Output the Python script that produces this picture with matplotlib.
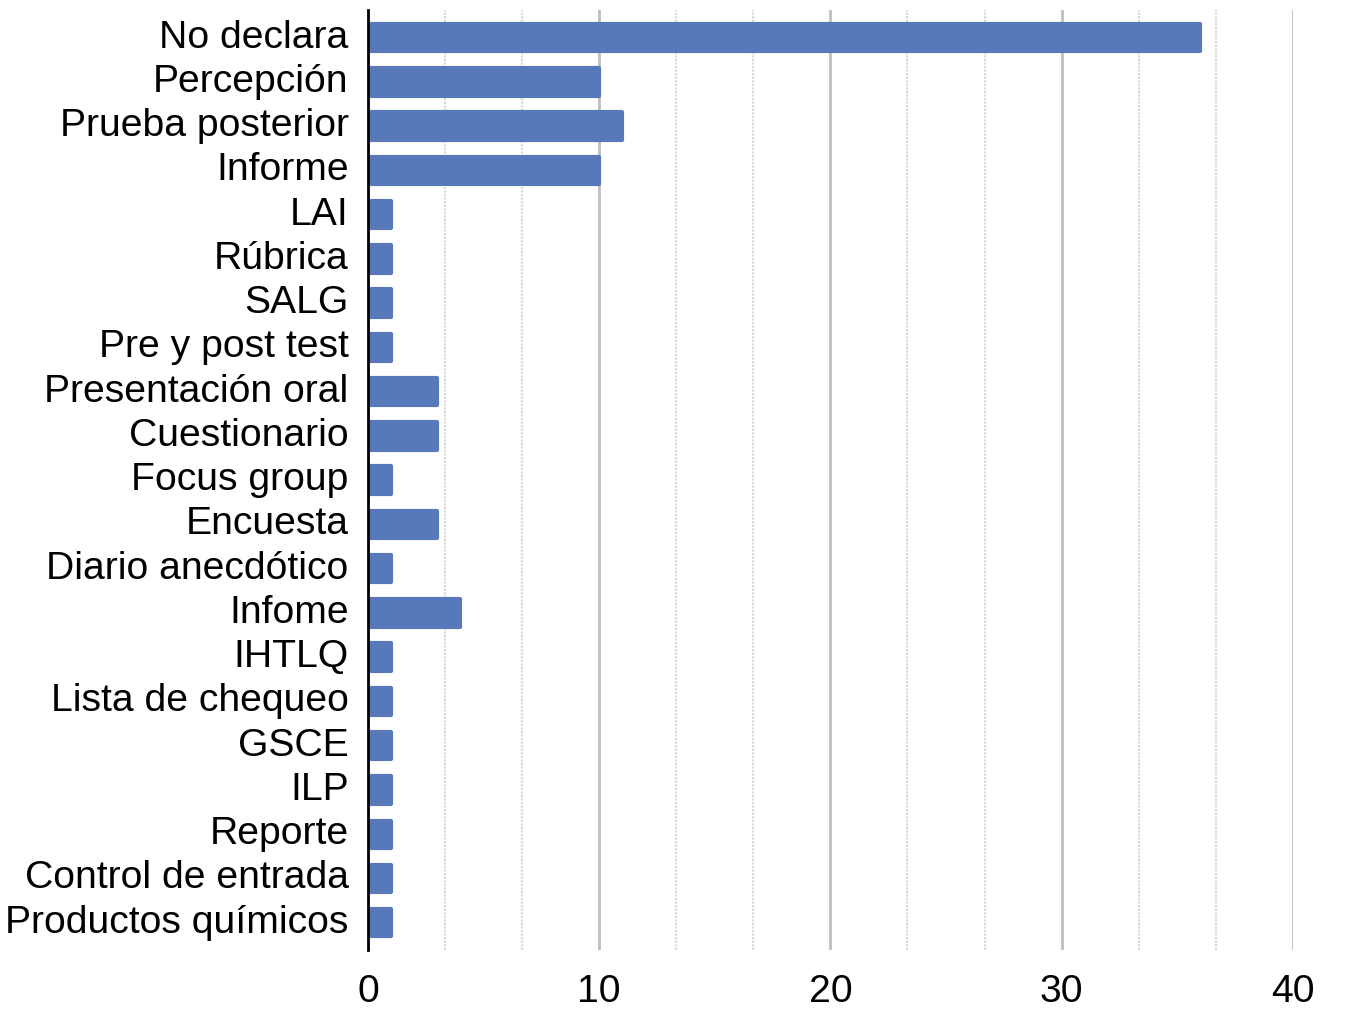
import matplotlib
matplotlib.use("Agg")
import matplotlib.pyplot as plt
import numpy as np

categories = ["No declara", "Percepción", "Prueba posterior", "Informe", "LAI", "Rúbrica",
              "SALG", "Pre y post test", "Presentación oral", "Cuestionario", "Focus group",
              "Encuesta", "Diario anecdótico", "Infome", "IHTLQ", "Lista de chequeo", "GSCE",
              "ILP", "Reporte", "Control de entrada", "Productos químicos"]
values = [36, 10, 11, 10, 1, 1, 1, 1, 3, 3, 1, 3, 1, 4, 1, 1, 1, 1, 1, 1, 1]
x_ticks = [0, 10, 20, 30, 40]

plt.rcParams['font.family'] = ['Liberation Sans', 'DejaVu Sans']

fig = plt.figure(figsize=(13.71, 10.13), dpi=100)
ax = fig.add_axes([0.2684, 0.062, 0.943 - 0.2684, 0.928])

y = np.arange(len(categories))
ax.barh(y, values, height=0.62, color='#5779BA', edgecolor='#5779BA', linewidth=3,
        joinstyle='round', zorder=3)

ax.set_xlim(0, 40)
ax.set_ylim(len(categories) - 0.38, -0.62)
ax.set_yticks(y)
ax.set_yticklabels(categories, fontsize=28.2)
for lbl in ax.get_yticklabels():
    lbl.set_verticalalignment('center')
    lbl.set_y(lbl.get_position()[1])
ax.set_xticks(x_ticks)
ax.set_xticklabels([str(t) for t in x_ticks], fontsize=28.2)

minor = [t for t in np.arange(0, 40.01, 10/3) if abs(t/10 - round(t/10)) > 1e-6]
ax.set_xticks(minor, minor=True)
ax.grid(axis='x', which='major', color='#bfbfbf', linewidth=2, zorder=0)
ax.grid(axis='x', which='minor', color='#d9d9d9', linewidth=1.6, linestyle=(0, (1, 0.6)), zorder=0)

ax.tick_params(axis='both', which='both', length=0)
ax.tick_params(axis='y', pad=14)
ax.tick_params(axis='x', pad=17)
for s in ['top', 'right', 'bottom']:
    ax.spines[s].set_visible(False)
ax.spines['left'].set_color('black')
ax.spines['left'].set_linewidth(2)
ax.spines['left'].set_zorder(4)

fig.savefig('out.png', dpi=100)
